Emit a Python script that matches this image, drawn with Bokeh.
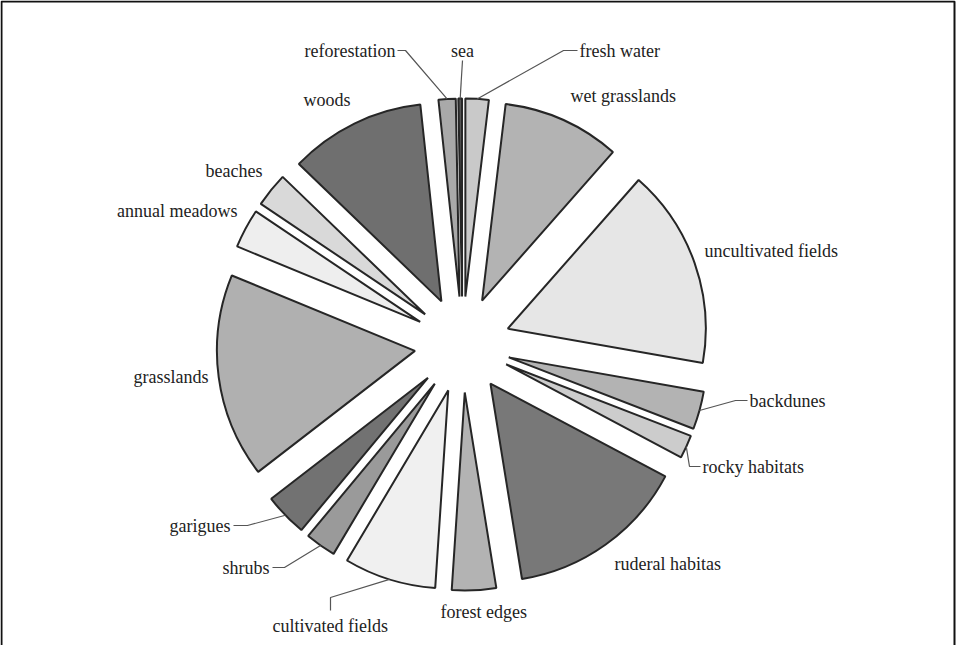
import math
from bokeh.plotting import figure
from bokeh.models import Range1d, ColumnDataSource
from bokeh.embed import file_html
from bokeh.resources import INLINE
from bokeh.core.properties import value

# ---------------- data (clockwise from 12 o'clock) ----------------
habitats = ["fresh water", "wet grasslands", "uncultivated fields", "backdunes",
            "rocky habitats", "ruderal habitas", "forest edges", "cultivated fields",
            "shrubs", "garigues", "grasslands", "annual meadows", "beaches",
            "woods", "reforestation", "sea"]
shares = [1.9, 9.6, 16.3, 3.1, 1.9, 14.7, 3.6, 7.5, 2.5, 3.5, 16.7, 3.2, 2.8, 11.1, 1.4, 0.3]
fills = ["#c9c9c9", "#b3b3b3", "#e6e6e6", "#b3b3b3", "#cccccc", "#787878", "#b3b3b3",
         "#f0f0f0", "#9a9a9a", "#727272", "#b0b0b0", "#eeeeee", "#d9d9d9", "#6f6f6f",
         "#a9a9a9", "#555555"]

# ---------------- layout ----------------
W, H = 956, 645
CX, CY = 470.0, 352.0      # pie centre (page px)
R = 198.0                  # radius
D = 48.0                   # explosion distance
FONT = "Liberation Serif"

# label placement: (x, y, align) in page px
label_pos = {
    "reforestation": (403, 58, "right"),
    "sea": (470, 58, "center"),
    "fresh water": (587, 58, "left"),
    "wet grasslands": (578, 103, "left"),
    "uncultivated fields": (712, 258, "left"),
    "backdunes": (757, 408, "left"),
    "rocky habitats": (710, 474, "left"),
    "ruderal habitas": (622, 571, "left"),
    "forest edges": (448, 619, "left"),
    "cultivated fields": (280, 633, "left"),
    "shrubs": (277, 575, "right"),
    "garigues": (238, 533, "right"),
    "grasslands": (216, 384, "right"),
    "annual meadows": (245, 218, "right"),
    "beaches": (270, 178, "right"),
    "woods": (311, 107, "left"),
}
# leader lines: points from label towards the slice (slice end added from geometry)
leaders = {
    "reforestation": [(405, 58), (413, 58)],
    "sea": [(470, 68)],
    "fresh water": [(585, 58), (571, 58)],
    "backdunes": [(755, 408), (743, 408)],
    "rocky habitats": [(708, 474), (697, 474)],
    "garigues": [(241, 533), (255, 533)],
    "shrubs": [(280, 575), (292, 575)],
    "cultivated fields": [(338, 618), (338, 605)],
}

total = sum(shares)
b0s, b1s = [], []
acc = 0.0
for s in shares:
    b0s.append(acc / total * 360.0)
    acc += s
    b1s.append(acc / total * 360.0)

ax, ay, sa, ea, midx, midy = [], [], [], [], [], []
for b0, b1 in zip(b0s, b1s):
    bis = math.radians((b0 + b1) / 2)
    x0 = CX + D * math.sin(bis)
    y0 = CY - D * math.cos(bis)
    ax.append(x0)
    ay.append(-y0)
    sa.append(math.radians(90 - b1))
    ea.append(math.radians(90 - b0))
    midx.append(x0 + R * math.sin(bis))
    midy.append(y0 - R * math.cos(bis))

src = ColumnDataSource(dict(x=ax, y=ay, sa=sa, ea=ea, fill=fills, name=habitats))

p = figure(width=W, height=H, x_range=Range1d(8, 8 + W), y_range=Range1d(-(8 + H), -8),
           output_backend="svg", toolbar_location=None, min_border=0,
           x_axis_type=None, y_axis_type=None)
p.grid.visible = False
p.outline_line_color = None
p.background_fill_color = "white"
p.border_fill_color = "white"

# page border (bottom lies outside the window)
p.line([9, 9, 962, 962], [-700, -9, -9, -700], line_color="#111111", line_width=2)

p.wedge(x="x", y="y", radius=R, start_angle="sa", end_angle="ea", direction="anticlock",
        fill_color="fill", line_color="#262626", line_width=2, source=src)

# leader lines
lx, ly = [], []
for name, pts in leaders.items():
    i = habitats.index(name)
    xs = [pt[0] for pt in pts] + [midx[i]]
    ys = [-pt[1] for pt in pts] + [-midy[i]]
    lx.append(xs)
    ly.append(ys)
p.multi_line(lx, ly, line_color="#555555", line_width=1.2)

# labels
for align in ("left", "right", "center"):
    names = [n for n in habitats if label_pos[n][2] == align]
    p.text(x=[label_pos[n][0] for n in names], y=[-label_pos[n][1] for n in names],
           text=names, text_align=align, text_baseline="middle",
           text_font=value(FONT), text_font_size="18px", text_color="#222222")

open("out.html", "w").write(file_html(p, INLINE))
